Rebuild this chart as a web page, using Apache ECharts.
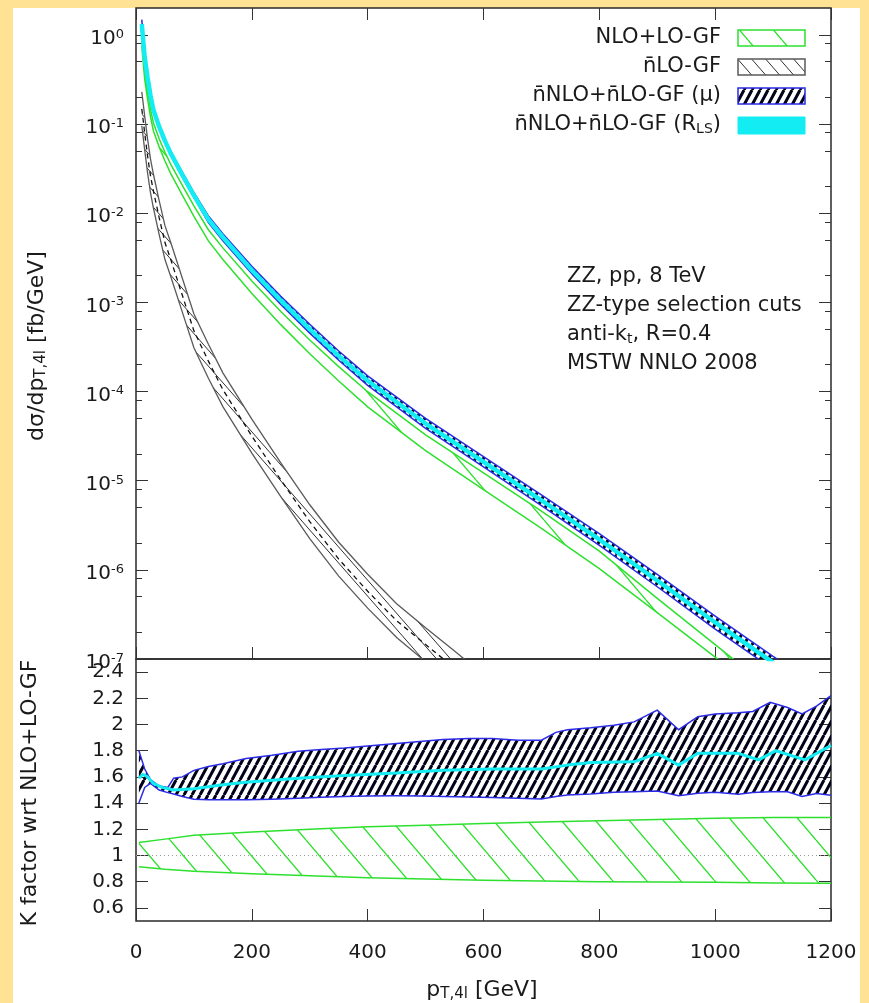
<!DOCTYPE html>
<html><head><meta charset="utf-8">
<script src="https://cdn.jsdelivr.net/npm/echarts@6/dist/echarts.min.js"></script>
<style>html,body{margin:0;padding:0;background:#FFE294;}#c{width:869px;height:1003px;}</style>
</head><body><div id="c"></div>
<script>
// ---------------- data ----------------
// upper panel: d sigma / d pT,4l  [fb/GeV]
const ptUp = [10,15,20,25,30,40,50,60,80,100,125,150,200,250,300,350,400,500,600,700,800,900,1000,1100,1200];
const nnloRLS = [1.32,5.62e-1,3.31e-1,2.09e-1,1.45e-1,9.33e-2,6.46e-2,4.68e-2,2.69e-2,1.58e-2,8.51e-3,5.37e-3,2.29e-3,1.05e-3,5.01e-4,2.51e-4,1.32e-4,4.37e-5,1.62e-5,6.03e-6,2.19e-6,7.59e-7,2.57e-7,9.12e-8,3.31e-8];
const nnloMuUp = [1.48,6.03e-1,3.47e-1,2.14e-1,1.48e-1,9.55e-2,6.61e-2,4.90e-2,2.88e-2,1.70e-2,9.33e-3,5.89e-3,2.54e-3,1.17e-3,5.69e-4,2.85e-4,1.50e-4,5.01e-5,1.86e-5,6.92e-6,2.54e-6,8.91e-7,3.02e-7,1.07e-7,3.98e-8];
const nnloMuLo = [1.15,5.25e-1,3.16e-1,2.02e-1,1.40e-1,9.02e-2,6.17e-2,4.47e-2,2.54e-2,1.50e-2,7.85e-3,4.90e-3,2.09e-3,9.44e-4,4.52e-4,2.24e-4,1.17e-4,3.85e-5,1.43e-5,5.25e-6,1.88e-6,6.46e-7,2.16e-7,7.67e-8,2.75e-8];
const nloUp = [9.06e-1,3.87e-1,2.31e-1,1.48e-1,1.03e-1,6.84e-2,4.82e-2,3.52e-2,2.05e-2,1.21e-2,6.52e-3,4.08e-3,1.73e-3,7.89e-4,3.78e-4,1.90e-4,9.95e-5,3.27e-5,1.22e-5,4.56e-6,1.62e-6,4.79e-7,1.45e-7,4.37e-8,1.32e-8];
const nloLo = [7.50e-1,3.19e-1,1.90e-1,1.21e-1,8.41e-2,5.52e-2,3.85e-2,2.78e-2,1.59e-2,9.23e-3,4.89e-3,3.03e-3,1.26e-3,5.62e-4,2.65e-4,1.31e-4,6.73e-5,2.17e-5,7.93e-6,2.92e-6,1.03e-6,3.31e-7,1.05e-7,3.39e-8,1.10e-8];
const ptGF = [10,15,20,25,30,40,50,60,80,100,125,150,200,250,300,350,400,450,500,550,600];
const gfCentral = [1.48e-1,7.94e-2,4.37e-2,2.63e-2,1.78e-2,8.91e-3,4.68e-3,3.02e-3,1.20e-3,4.79e-4,2.19e-4,1.05e-4,3.16e-5,1.02e-5,3.47e-6,1.32e-6,5.75e-7,2.69e-7,1.45e-7,7.94e-8,4.27e-8];
const gfUp = [2.29e-1,1.23e-1,6.76e-2,4.07e-2,2.75e-2,1.38e-2,7.24e-3,4.68e-3,1.86e-3,7.41e-4,3.39e-4,1.62e-4,4.90e-5,1.58e-5,5.37e-6,2.04e-6,8.91e-7,4.17e-7,2.24e-7,1.23e-7,6.61e-8];
const gfLo = [9.55e-2,5.13e-2,2.82e-2,1.70e-2,1.15e-2,5.75e-3,3.02e-3,1.95e-3,7.76e-4,3.09e-4,1.41e-4,6.76e-5,2.04e-5,6.61e-6,2.24e-6,8.51e-7,3.72e-7,1.74e-7,9.33e-8,5.13e-8,2.75e-8];

// lower panel: K factor wrt NLO+LO-GF
const ptRatioNLO = [5,50,100,200,300,400,500,600,700,800,900,1000,1100,1200];
const ratioNLOUp = [1.10,1.125,1.155,1.18,1.20,1.22,1.23,1.245,1.255,1.265,1.275,1.285,1.29,1.29];
const ratioNLOLo = [0.915,0.895,0.88,0.86,0.845,0.83,0.82,0.812,0.806,0.80,0.798,0.795,0.79,0.788];
const ptK = [5,15,25,40,55,65,80,100,125,150,190,235,280,320,360,400,450,490,530,575,615,660,700,725,745,785,825,860,900,937,970,1000,1040,1065,1095,1125,1150,1175,1200];
const kMuUp = [1.80,1.66,1.58,1.53,1.52,1.59,1.60,1.65,1.68,1.70,1.74,1.765,1.795,1.81,1.82,1.835,1.855,1.87,1.885,1.893,1.893,1.88,1.88,1.94,1.96,1.975,1.995,2.02,2.11,1.96,2.06,2.08,2.09,2.10,2.17,2.13,2.08,2.14,2.22];
const kMuLo = [1.40,1.52,1.55,1.50,1.48,1.47,1.45,1.43,1.425,1.425,1.425,1.43,1.437,1.445,1.45,1.455,1.457,1.455,1.45,1.447,1.442,1.437,1.432,1.45,1.462,1.47,1.482,1.487,1.492,1.457,1.475,1.482,1.467,1.48,1.487,1.487,1.45,1.474,1.46];
const ptKRLS = [5,12,20,30,45,65,100,150,190,235,280,360,450,530,615,700,745,785,860,900,937,970,1040,1075,1105,1155,1200];
const kRLS = [1.59,1.62,1.60,1.55,1.52,1.50,1.51,1.54,1.56,1.575,1.59,1.61,1.63,1.65,1.66,1.66,1.69,1.71,1.715,1.78,1.69,1.78,1.78,1.73,1.80,1.73,1.84];
const refRatio = 1;

// ticks
const xTicks = [0,200,400,600,800,1000,1200];
const logTicks = [1e-7,1e-6,1e-5,1e-4,1e-3,1e-2,1e-1,1];
const logMinorTicks = [2e-7,5e-7,8e-7,2e-6,5e-6,8e-6,2e-5,5e-5,8e-5,2e-4,5e-4,8e-4,2e-3,5e-3,8e-3,2e-2,5e-2,8e-2,2e-1,5e-1,8e-1];
const kTicks = [0.6,0.8,1,1.2,1.4,1.6,1.8,2,2.2,2.4];

// ---------------- styling ----------------
const FONT = "'DejaVu Sans', sans-serif";
const TXT = '#1a1a1a';
const GREEN = '#2ee02e';
const BLUE = '#2b2be6';
const CYAN = '#12ecf2';
const GREY = '#5a5a5a';

function hatch(w, h, color, lw, dir) {
  const c = document.createElement('canvas');
  c.width = w; c.height = h;
  const g = c.getContext('2d');
  g.strokeStyle = color; g.lineWidth = lw;
  g.beginPath();
  for (let k = -1; k <= 1; k++) {
    if (dir === '\\') { g.moveTo(k * w, 0); g.lineTo(k * w + w, h); }
    else { g.moveTo(k * w, h); g.lineTo(k * w + w, 0); }
  }
  g.stroke();
  return { image: c, repeat: 'repeat' };
}
const patGreen = hatch(34, 40, GREEN, 1.4, '\\');
const patGF = hatch(14, 16, '#303030', 1, '\\');
const patMu = hatch(8, 15, '#000018', 3, '/');

function band(name, xs, lo, hi, xIdx, yIdx, fill, edge, edgeW, z) {
  return {
    type: 'custom', name: name, xAxisIndex: xIdx, yAxisIndex: yIdx, z: z, clip: true,
    data: xs.map((x, i) => [x, lo[i], hi[i]]),
    encode: { x: 0, y: [1, 2] },
    renderItem: function (params, api) {
      if (params.dataIndex !== 0) return null;
      const up = xs.map((x, i) => api.coord([x, hi[i]]));
      const dn = xs.map((x, i) => api.coord([x, lo[i]]));
      return {
        type: 'group',
        children: [
          { type: 'polygon', shape: { points: up.concat(dn.slice().reverse()) }, style: { fill: fill, stroke: null } },
          { type: 'polyline', shape: { points: up }, style: { fill: null, stroke: edge, lineWidth: edgeW } },
          { type: 'polyline', shape: { points: dn }, style: { fill: null, stroke: edge, lineWidth: edgeW } }
        ]
      };
    }
  };
}
function line(name, xs, ys, xIdx, yIdx, color, width, type, z) {
  return {
    type: 'line', name: name, xAxisIndex: xIdx, yAxisIndex: yIdx, z: z,
    data: xs.map((x, i) => [x, ys[i]]), showSymbol: false, symbol: 'none',
    lineStyle: { color: color, width: width, type: type }, clip: true, silent: true
  };
}

const tickStyle = { color: '#333', width: 1 };
function xAx(gridIndex, position, showLabel) {
  return {
    type: 'value', gridIndex: gridIndex, position: position, min: 0, max: 1200, interval: 200,
    axisLine: { show: false }, splitLine: { show: false },
    axisTick: { show: true, inside: true, length: 12, lineStyle: tickStyle },
    axisLabel: { show: showLabel, fontFamily: FONT, fontSize: 20, color: TXT, margin: 22, formatter: v => String(v) }
  };
}
function logAx(position, ticks, len, showLabel) {
  return {
    type: 'log', logBase: 10, gridIndex: 0, position: position, min: 1e-7, max: 2,
    axisLine: { show: false }, splitLine: { show: false }, minorTick: { show: false },
    axisTick: { show: true, inside: true, length: len, customValues: ticks, lineStyle: tickStyle },
    axisLabel: {
      show: showLabel, customValues: ticks, margin: 12, padding: [8, 0, 0, 0],
      fontFamily: FONT, fontSize: 20, color: TXT, lineHeight: 22,
      formatter: v => '10{s|' + Math.round(Math.log10(v)) + '}',
      rich: { s: { fontFamily: FONT, fontSize: 13, lineHeight: 8, verticalAlign: 'top', color: TXT } }
    }
  };
}
function kAx(position, showLabel) {
  return {
    type: 'value', gridIndex: 1, position: position, min: 0.5, max: 2.5,
    axisLine: { show: false }, splitLine: { show: false },
    axisTick: { show: true, inside: true, length: 12, customValues: kTicks, lineStyle: tickStyle },
    axisLabel: { show: showLabel, customValues: kTicks, margin: 12, fontFamily: FONT, fontSize: 20, color: TXT }
  };
}

const txt = (text, x, y, align, size, extra) => Object.assign({
  type: 'text', x: x, y: y, silent: true,
  style: {
    text: text, align: align, verticalAlign: 'middle', fill: TXT, fontFamily: FONT, fontSize: size, lineHeight: size + 2,
    rich: { sub: { fontFamily: FONT, fontSize: Math.round(size * 0.68), lineHeight: 8, verticalAlign: 'bottom', fill: TXT } }
  }
}, extra || {});

const legendBoxX = 738, legendBoxW = 67, legendBoxH = 16;
const legendRows = [38, 67, 96, 125];

const chart = echarts.init(document.getElementById('c'), null, { renderer: 'canvas', width: 869, height: 1003 });
chart.setOption({
  animation: false,
  backgroundColor: '#FFE294',
  grid: [
    { left: 136, top: 8, width: 695, height: 651, show: true, borderColor: '#2a2a2a', borderWidth: 1.5, backgroundColor: 'transparent' },
    { left: 136, top: 659, width: 695, height: 262, show: true, borderColor: '#2a2a2a', borderWidth: 1.5, backgroundColor: 'transparent' }
  ],
  xAxis: [xAx(0, 'bottom', false), xAx(0, 'top', false), xAx(1, 'bottom', true)],
  yAxis: [
    logAx('left', logTicks, 12, true), logAx('left', logMinorTicks, 6, false),
    logAx('right', logTicks, 12, false), logAx('right', logMinorTicks, 6, false),
    kAx('left', true), kAx('right', false)
  ],
  series: [
    band('NLO+LO-GF', ptUp, nloLo, nloUp, 0, 0, patGreen, GREEN, 1.5, 2),
    band('n̄LO-GF', ptGF, gfLo, gfUp, 0, 0, patGF, GREY, 1.3, 3),
    line('n̄LO-GF central', ptGF, gfCentral, 0, 0, '#111', 1.3, [5, 4], 4),
    band('n̄NLO+n̄LO-GF (μ)', ptUp, nnloMuLo, nnloMuUp, 0, 0, patMu, BLUE, 1.5, 5),
    line('n̄NLO+n̄LO-GF (R_LS)', ptUp, nnloRLS, 0, 0, CYAN, 4.5, 'solid', 6),
    band('NLO+LO-GF ratio', ptRatioNLO, ratioNLOLo, ratioNLOUp, 2, 4, patGreen, GREEN, 1.5, 2),
    line('unity', [xTicks[0], xTicks[xTicks.length - 1]], [refRatio, refRatio], 2, 4, '#9a9a9a', 1, [1, 3], 3),
    band('K (μ)', ptK, kMuLo, kMuUp, 2, 4, patMu, BLUE, 1.5, 4),
    line('K (R_LS)', ptKRLS, kRLS, 2, 4, CYAN, 3, 'solid', 5)
  ],
  graphic: [
    { type: 'rect', z: -10, silent: true, shape: { x: 13, y: 8, width: 847, height: 995 }, style: { fill: '#ffffff' } },
    // legend
    txt('NLO+LO-GF', 721, legendRows[0], 'right', 21),
    txt('n̄LO-GF', 721, legendRows[1], 'right', 21),
    txt('n̄NLO+n̄LO-GF (μ)', 721, legendRows[2], 'right', 21),
    txt('n̄NLO+n̄LO-GF (R{sub|LS})', 721, legendRows[3], 'right', 21),
    { type: 'rect', silent: true, shape: { x: legendBoxX, y: legendRows[0] - 8, width: legendBoxW, height: legendBoxH }, style: { fill: patGreen, stroke: GREEN, lineWidth: 1.5 } },
    { type: 'rect', silent: true, shape: { x: legendBoxX, y: legendRows[1] - 8, width: legendBoxW, height: legendBoxH }, style: { fill: patGF, stroke: GREY, lineWidth: 1.5 } },
    { type: 'rect', silent: true, shape: { x: legendBoxX, y: legendRows[2] - 8, width: legendBoxW, height: legendBoxH }, style: { fill: patMu, stroke: BLUE, lineWidth: 1.5 } },
    { type: 'rect', silent: true, shape: { x: legendBoxX, y: legendRows[3] - 8, width: legendBoxW, height: legendBoxH + 1 }, style: { fill: CYAN, stroke: CYAN, lineWidth: 1 } },
    // annotation
    txt('ZZ, pp, 8 TeV', 567, 277, 'left', 21),
    txt('ZZ-type selection cuts', 567, 306, 'left', 21),
    txt('anti-k{sub|t}, R=0.4', 567, 335, 'left', 21),
    txt('MSTW NNLO 2008', 567, 364, 'left', 21),
    // axis titles
    txt('dσ/dp{sub|T,4l} [fb/GeV]', 37, 346, 'center', 22, { rotation: Math.PI / 2 }),
    txt('K factor wrt NLO+LO-GF', 30, 793, 'center', 22, { rotation: Math.PI / 2 }),
    txt('p{sub|T,4l} [GeV]', 482, 990, 'center', 22)
  ]
});
</script>
</body></html>
